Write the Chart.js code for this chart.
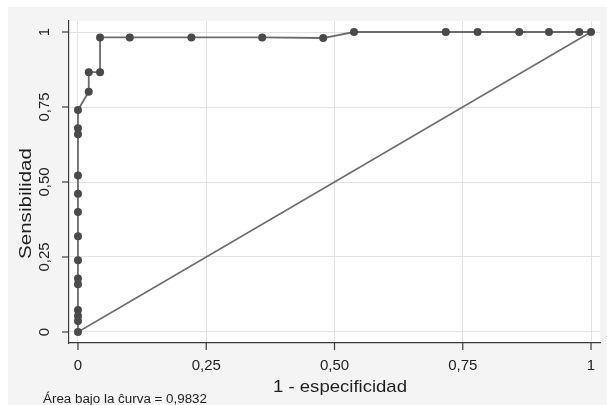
<!DOCTYPE html>
<html>
<head>
<meta charset="utf-8">
<script src="https://cdn.jsdelivr.net/npm/chart.js@4/dist/chart.umd.min.js"></script>
<style>
  html, body { margin: 0; padding: 0; background: #ffffff; }
  #wrap { width: 607px; height: 405px; position: relative; }
  canvas { display: block; }
</style>
</head>
<body>
<div id="wrap"><canvas id="c" width="607" height="405"></canvas></div>
<script>
// ---- data ----
const fpr = [0, 0, 0, 0, 0, 0, 0, 0, 0, 0, 0, 0, 0, 0,
             0.021, 0.021, 0.043, 0.043, 0.101, 0.221, 0.359, 0.478,
             0.538, 0.717, 0.779, 0.860, 0.918, 0.977, 1];
const tpr = [0, 0.037, 0.053, 0.073, 0.159, 0.178, 0.239, 0.319, 0.400, 0.461, 0.522, 0.659, 0.679, 0.740,
             0.801, 0.866, 0.866, 0.982, 0.982, 0.982, 0.982, 0.980,
             1, 1, 1, 1, 1, 1, 1];
const refX = [0, 1];
const refY = [0, 1];
const xTicks = [0, 0.25, 0.5, 0.75, 1];
const xTickLabels = ["0", "0,25", "0,50", "0,75", "1"];
const yTicks = [0, 0.25, 0.5, 0.75, 1];
const yTickLabels = ["0", "0,25", "0,50", "0,75", "1"];
const xTitle = "1 - especificidad";
const yTitle = "Sensibilidad";
const note = "Área bajo la ĉurva = 0,9832";

const FONT = '"Liberation Sans", Arial, Helvetica, sans-serif';
const TEXT = '#1e1e1e';
const AXIS = '#3c3c3c';

function drawText(ctx, text, x, y, size, align, rot, targetW) {
  ctx.save();
  ctx.font = size + 'px ' + FONT;
  ctx.fillStyle = TEXT;
  ctx.textBaseline = 'alphabetic';
  ctx.translate(x, y);
  if (rot) ctx.rotate(rot);
  let sx = 1;
  if (targetW) sx = targetW / ctx.measureText(text).width;
  ctx.scale(sx, 1);
  ctx.textAlign = align;
  ctx.fillText(text, 0, 0);
  ctx.restore();
}

const decor = {
  id: 'decor',
  beforeDraw(chart) {
    const ctx = chart.ctx, a = chart.chartArea;
    ctx.save();
    ctx.fillStyle = '#ffffff';
    ctx.fillRect(0, 0, chart.width, chart.height);
    ctx.fillStyle = '#f4f4f4';
    ctx.fillRect(8, 7, chart.width - 8, chart.height - 7);
    ctx.fillStyle = '#ffffff';
    ctx.fillRect(a.left, a.top, a.right - a.left, a.bottom - a.top);
    ctx.restore();
  },
  afterDraw(chart) {
    const ctx = chart.ctx, a = chart.chartArea;
    const xs = chart.scales.x, ys = chart.scales.y;
    ctx.save();
    ctx.strokeStyle = AXIS;
    ctx.lineWidth = 1.2;
    // x ticks + labels
    xTicks.forEach((v, i) => {
      const px = xs.getPixelForValue(v);
      ctx.beginPath();
      ctx.moveTo(px, a.bottom);
      ctx.lineTo(px, a.bottom + 7);
      ctx.stroke();
      drawText(ctx, xTickLabels[i], px, 369.5, 15, 'center', 0, null);
    });
    // y ticks + rotated labels
    yTicks.forEach((v, i) => {
      const py = ys.getPixelForValue(v);
      ctx.beginPath();
      ctx.moveTo(a.left - 7, py);
      ctx.lineTo(a.left, py);
      ctx.stroke();
      drawText(ctx, yTickLabels[i], 48.5, py, 15, 'center', -Math.PI / 2, null);
    });
    ctx.restore();
    drawText(ctx, xTitle, 340, 392, 17, 'center', 0, 134);
    drawText(ctx, yTitle, 30.5, 203.5, 17, 'center', -Math.PI / 2, 111);
    drawText(ctx, note, 43, 403, 12.5, 'left', 0, 164);
  }
};

const rocData = fpr.map((x, i) => ({ x: x, y: tpr[i] }));
const refData = refX.map((x, i) => ({ x: x, y: refY[i] }));

new Chart(document.getElementById('c'), {
  type: 'scatter',
  data: {
    datasets: [
      {
        label: 'ROC',
        data: rocData,
        showLine: true,
        borderColor: '#6b6b6b',
        borderWidth: 1.8,
        pointRadius: 4,
        pointBackgroundColor: '#4a4a4a',
        pointBorderColor: '#4a4a4a',
        pointBorderWidth: 0,
        order: 1
      },
      {
        label: 'Referencia',
        data: refData,
        showLine: true,
        borderColor: '#6f6f6f',
        borderWidth: 1.6,
        pointRadius: 0,
        order: 2
      }
    ]
  },
  options: {
    responsive: false,
    animation: false,
    devicePixelRatio: 1,
    layout: { padding: { left: 69, top: 21, right: 7, bottom: 62 }, autoPadding: false },
    plugins: { legend: { display: false }, tooltip: { enabled: false } },
    scales: {
      x: {
        type: 'linear',
        position: 'bottom',
        min: -0.0175,
        max: 1.0175,
        afterBuildTicks: (s) => { s.ticks = xTicks.map(v => ({ value: v })); },
        ticks: { display: false },
        grid: { color: '#e2e2e2', lineWidth: 1, drawTicks: false },
        border: { display: true, color: AXIS, width: 1.2 },
        title: { display: false }
      },
      y: {
        type: 'linear',
        position: 'left',
        min: -0.0367,
        max: 1.0367,
        afterBuildTicks: (s) => { s.ticks = yTicks.map(v => ({ value: v })); },
        ticks: { display: false },
        grid: { color: '#e2e2e2', lineWidth: 1, drawTicks: false },
        border: { display: true, color: AXIS, width: 1.2 },
        title: { display: false }
      }
    }
  },
  plugins: [decor]
});
</script>
</body>
</html>
